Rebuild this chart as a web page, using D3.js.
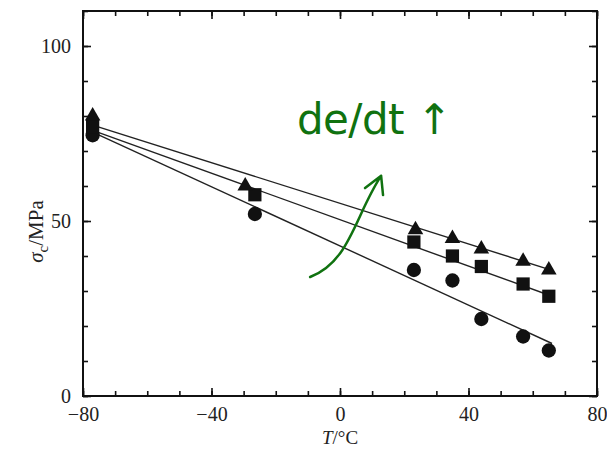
<!DOCTYPE html>
<html>
<head>
<meta charset="utf-8">
<script src="https://cdn.jsdelivr.net/npm/d3@7"></script>
<style>
  html, body { margin: 0; padding: 0; background: #fff; }
  svg { display: block; }
</style>
</head>
<body>
<div id="chart"></div>
<script>
// temperature (°C) and compressive strength (MPa)
const triT = [-77, -29.5, 23.5, 35, 44, 57, 65];
const triS = [80, 60, 47.5, 45, 42, 38.5, 36];
const sqT = [-77, -26.5, 23, 35, 44, 57, 65];
const sqS = [77, 57.5, 44, 40, 37, 32, 28.5];
const ciT = [-77, -26.5, 23, 35, 44, 57, 65];
const ciS = [74.5, 52, 36, 33, 22, 17, 13];

// fitted straight lines, given by their end points
const fitT = [-77, 66];
const triFit = [77.4, 35.9];
const sqFit = [75.9, 28.5];
const ciFit = [75.4, 15];

const xMajor = [-80, -40, 0, 40, 80];
const yMajor = [0, 50, 100];

// annotation (in data units)
const noteText = "de/dt \u2191";
const notePos = [-13.4, 74.9];
const arrowPts = [[-9.3, 34], [3.1, 38.3], [4.7, 51.7], [12.8, 62.9]];
const arrowWings = [[7.8, 59.4], [13.4, 57.4]];

const width = 607, height = 449;
const margin = {top: 11, right: 10, bottom: 53, left: 83};

const x = d3.scaleLinear().domain([-80, 80]).range([margin.left, width - margin.right]);
const y = d3.scaleLinear().domain([0, 110]).range([height - margin.bottom, margin.top]);

const svg = d3.select("#chart").append("svg")
    .attr("width", width)
    .attr("height", height)
    .style("font-family", '"Liberation Serif", "Times New Roman", serif');

const minor = d3.range(-80, 81, 10);
const minorY = d3.range(0, 111, 10);
const fmt = d => d < 0 ? "\u2212" + Math.abs(d) : String(d);

// ticks on all four sides, pointing inward
function styleAxis(g) {
    g.select(".domain").remove();
    g.selectAll("line").attr("stroke", "#111").attr("stroke-width", 1.6);
}

const x0 = y(0), x1 = y(110);
svg.append("g").attr("transform", `translate(0,${x0})`)
    .call(d3.axisBottom(x).tickValues(minor).tickSize(-5).tickFormat(""))
    .call(styleAxis);
svg.append("g").attr("transform", `translate(0,${x0})`)
    .call(d3.axisBottom(x).tickValues(xMajor).tickSize(-8).tickPadding(11).tickFormat(fmt))
    .call(styleAxis)
    .call(g => g.selectAll("text").attr("font-size", 20).attr("fill", "#222")
        .attr("font-family", '"Liberation Serif", serif'));
svg.append("g").attr("transform", `translate(0,${x1})`)
    .call(d3.axisTop(x).tickValues(minor).tickSize(-5).tickFormat(""))
    .call(styleAxis);
svg.append("g").attr("transform", `translate(0,${x1})`)
    .call(d3.axisTop(x).tickValues(xMajor).tickSize(-8).tickFormat(""))
    .call(styleAxis);

svg.append("g").attr("transform", `translate(${x(-80)},0)`)
    .call(d3.axisLeft(y).tickValues(minorY).tickSize(-5).tickFormat(""))
    .call(styleAxis);
svg.append("g").attr("transform", `translate(${x(-80)},0)`)
    .call(d3.axisLeft(y).tickValues(yMajor).tickSize(-8).tickPadding(12).tickFormat(fmt))
    .call(styleAxis)
    .call(g => g.selectAll("text").attr("font-size", 20).attr("fill", "#222")
        .attr("font-family", '"Liberation Serif", serif'));
svg.append("g").attr("transform", `translate(${x(80)},0)`)
    .call(d3.axisRight(y).tickValues(minorY).tickSize(-5).tickFormat(""))
    .call(styleAxis);
svg.append("g").attr("transform", `translate(${x(80)},0)`)
    .call(d3.axisRight(y).tickValues(yMajor).tickSize(-8).tickFormat(""))
    .call(styleAxis);

// frame
svg.append("rect")
    .attr("x", x(-80)).attr("y", y(110))
    .attr("width", x(80) - x(-80)).attr("height", y(0) - y(110))
    .attr("fill", "none").attr("stroke", "#111").attr("stroke-width", 2);

// fit lines
const line = d3.line().x(d => x(d[0])).y(d => y(d[1]));
[triFit, sqFit, ciFit].forEach(f => {
    svg.append("path")
        .datum(fitT.map((t, i) => [t, f[i]]))
        .attr("d", line)
        .attr("fill", "none").attr("stroke", "#222").attr("stroke-width", 1.4);
});

// markers
const series = [
    {T: ciT, S: ciS, type: d3.symbolCircle, size: 160},
    {T: sqT, S: sqS, type: d3.symbolSquare, size: 175},
    {T: triT, S: triS, type: d3.symbolTriangle, size: 105}
];
series.forEach(s => {
    svg.append("g").selectAll("path")
        .data(s.T.map((t, i) => [t, s.S[i]]))
        .join("path")
        .attr("transform", d => `translate(${x(d[0])},${y(d[1])})`)
        .attr("d", d3.symbol().type(s.type).size(s.size))
        .attr("fill", "#111");
});

// axis titles
svg.append("text")
    .attr("x", x(0)).attr("y", 444)
    .attr("text-anchor", "middle").attr("font-size", 19).attr("fill", "#222")
    .html('<tspan font-style="italic">T</tspan>/°C');

svg.append("text")
    .attr("transform", `translate(43,${y(47)}) rotate(-90)`)
    .attr("text-anchor", "middle").attr("font-size", 21).attr("fill", "#222")
    .html('<tspan font-style="italic">σ</tspan><tspan font-size="15" dy="5">c</tspan><tspan dy="-5">/MPa</tspan>');

// green annotation
const green = "#107210";
svg.append("text")
    .attr("x", x(notePos[0])).attr("y", y(notePos[1]))
    .attr("font-family", '"DejaVu Sans", Verdana, sans-serif')
    .attr("font-size", 42).attr("fill", green)
    .attr("textLength", 155).attr("lengthAdjust", "spacing")
    .text(noteText);

const p = arrowPts.map(d => [x(d[0]), y(d[1])]);
const path = d3.path();
path.moveTo(p[0][0], p[0][1]);
path.bezierCurveTo(p[1][0], p[1][1], p[2][0], p[2][1], p[3][0], p[3][1]);
const w = arrowWings.map(d => [x(d[0]), y(d[1])]);
path.moveTo(w[0][0], w[0][1]);
path.lineTo(p[3][0], p[3][1]);
path.lineTo(w[1][0], w[1][1]);
svg.append("path")
    .attr("d", path.toString())
    .attr("fill", "none").attr("stroke", green).attr("stroke-width", 2.5)
    .attr("stroke-linecap", "round").attr("stroke-linejoin", "round");
</script>
</body>
</html>
